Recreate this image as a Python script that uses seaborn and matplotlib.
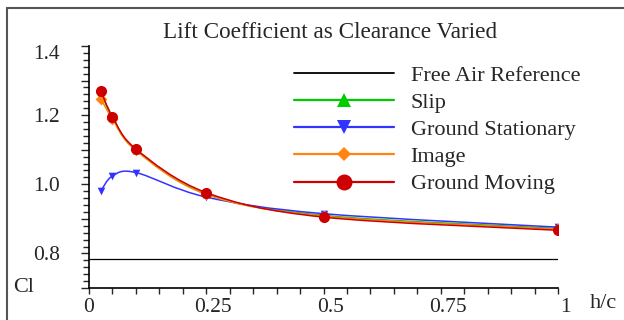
# plot.py
"""Lift coefficient against ground clearance, smoothed lines with markers."""

import numpy as np
import seaborn as sns
import matplotlib.pyplot as plt
import matplotlib.transforms as mtransforms
from matplotlib.path import Path
from matplotlib.patches import PathPatch
from matplotlib.lines import Line2D
from matplotlib.ticker import MultipleLocator, FixedLocator, FuncFormatter

# clearance h/c and lift coefficient for each method
h_c = [0.025, 0.05, 0.1, 0.25, 0.5, 1.0]
cl_slip = [1.268, 1.193, 1.099, 0.972, 0.910, 0.872]
cl_ground_stationary = [0.980, 1.024, 1.034, 0.963, 0.915, 0.876]
cl_image = [1.248, 1.189, 1.098, 0.971, 0.908, 0.870]
cl_ground_moving = [1.271, 1.196, 1.102, 0.976, 0.905, 0.867]
free_air_x = [0.0, 1.0]
free_air_cl = [0.783, 0.783]

labels = ['Free Air Reference', 'Slip', 'Ground Stationary', 'Image', 'Ground Moving']
x_ticks = [0, 0.25, 0.5, 0.75, 1.0]
y_ticks = [0.7, 0.8, 0.9, 1.0, 1.1, 1.2, 1.3, 1.4]


def smooth_path(ax, xs, ys):
    # excel-style smoothed line: catmull-rom segments as bezier curves in screen space
    pts = ax.transData.transform(np.column_stack([xs, ys]))
    n = len(pts)
    verts = [pts[0]]
    codes = [Path.MOVETO]
    for i in range(n - 1):
        p0 = pts[max(i - 1, 0)]
        p1 = pts[i]
        p2 = pts[i + 1]
        p3 = pts[min(i + 2, n - 1)]
        verts += [p1 + (p2 - p0) / 6, p2 - (p3 - p1) / 6, p2]
        codes += [Path.CURVE4] * 3
    verts = ax.transData.inverted().transform(np.array(verts))
    return Path(verts, codes)


sns.set_style('white')
plt.rcParams['font.family'] = ['Liberation Serif', 'DejaVu Serif']

fig = plt.figure(figsize=(6.24, 3.2), dpi=100)
ax = fig.add_axes([89 / 624, 1 - 288 / 320, 469 / 624, 242 / 320])
ax.set_xlim(0, 1)
ax.set_ylim(0.7, 1.4)

# series: values, colour, plot marker, plot marker size, legend marker size
series = [
    (cl_slip, '#00cc00', '^', 5.5, 9.5),
    (cl_ground_stationary, '#3333ff', 'v', 5.5, 9.5),
    (cl_image, '#ff8411', 'D', 6, 7.5),
    (cl_ground_moving, '#cc0000', 'o', 8, 11.5),
]

ax.plot(free_air_x, free_air_cl, color='black', lw=0.9, zorder=2)

handles = [Line2D([], [], color='black', lw=1.3)]
z = 3
for values, color, marker, ms, leg_ms in series:
    ax.add_patch(PathPatch(smooth_path(ax, h_c, values), facecolor='none',
                           edgecolor=color, lw=1.1, zorder=z))
    sns.scatterplot(x=h_c, y=values, marker=marker, s=ms ** 2, color=color,
                    edgecolor=color, linewidth=0, ax=ax, zorder=z + 0.5, legend=False)
    handles.append(Line2D([], [], color=color, lw=1.6, marker=marker,
                          markersize=leg_ms, markeredgewidth=0))
    z += 1

ax.legend(handles, labels, loc='upper left', bbox_to_anchor=(294 / 624, 1 - 65 / 320),
          bbox_transform=fig.transFigure, frameon=False, fontsize=16,
          handlelength=4.5, handletextpad=0.75, labelspacing=0.3,
          borderpad=0, borderaxespad=0)

# axes and ticks
sns.despine(ax=ax)
for side in ['left', 'bottom']:
    ax.spines[side].set_color('black')
    ax.spines[side].set_linewidth(1.2)

ax.yaxis.set_major_locator(FixedLocator(y_ticks))
ax.yaxis.set_minor_locator(MultipleLocator(0.02))
ax.yaxis.set_major_formatter(FuncFormatter(
    lambda v, pos: f'{v:.1f}' if round(v * 10) % 2 == 0 else ''))
ax.xaxis.set_major_locator(FixedLocator(x_ticks))
ax.xaxis.set_minor_locator(MultipleLocator(0.05))
ax.xaxis.set_major_formatter(FuncFormatter(lambda v, pos: f'{v:g}'))

ax.tick_params(axis='y', which='major', direction='out', length=6, width=1,
               labelsize=15.5, pad=15, left=True)
ax.tick_params(axis='y', which='minor', direction='out', length=4, width=1, left=True)
ax.tick_params(axis='x', which='both', direction='out', length=4, width=1,
               labelsize=15.5, pad=3, bottom=True)

# excel nudges the x labels slightly right of their ticks
shift = mtransforms.ScaledTranslation(7 / 100, 0, fig.dpi_scale_trans)
for lbl in ax.get_xticklabels()[1:]:
    lbl.set_transform(lbl.get_transform() + shift)
# and the top y label sits a little below its tick
top = ax.get_yticklabels()[-1]
top.set_transform(top.get_transform() + mtransforms.ScaledTranslation(0, -6 / 100, fig.dpi_scale_trans))

fig.text(330 / 624, 1 - 33 / 320, 'Lift Coefficient as Clearance Varied',
         ha='center', va='center', fontsize=16.7)
fig.text(24 / 624, 1 - 288 / 320, 'Cl', ha='center', va='center', fontsize=16)
fig.text(603 / 624, 1 - 304 / 320, 'h/c', ha='center', va='center', fontsize=16)

# outer chart border, top and left edges visible
fig.add_artist(Line2D([7 / 624, 1], [1 - 8 / 320] * 2, color='#555555', lw=1.5))
fig.add_artist(Line2D([7 / 624] * 2, [0, 1 - 8 / 320], color='#555555', lw=1.5))

fig.savefig('out.png', dpi=100)
